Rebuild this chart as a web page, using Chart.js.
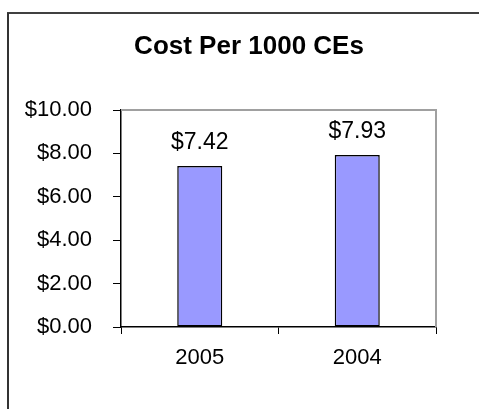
<!DOCTYPE html>
<html>
<head>
<meta charset="utf-8">
<script src="https://cdn.jsdelivr.net/npm/chart.js@4/dist/chart.umd.min.js"></script>
<style>
  body { margin: 0; background: #fff; }
  #wrap { width: 479px; height: 409px; }
</style>
</head>
<body>
<div id="wrap"><canvas id="myChart" width="479" height="409"></canvas></div>
<script>
var categories = ['2005', '2004'];
var costValues = [7.42, 7.93];
var yTicks = [0, 2, 4, 6, 8, 10];
var chartTitle = 'Cost Per 1000 CEs';

var fontName = '"Liberation Sans", Arial, sans-serif';

// frame around the whole chart, title, grey plot-area edges, value labels
var decorPlugin = {
  id: 'decor',
  beforeDatasetsDraw: function (chart) {
    var ctx = chart.ctx;
    var a = chart.chartArea;
    ctx.save();
    ctx.strokeStyle = '#a0a0a0';
    ctx.lineWidth = 2;
    ctx.beginPath();
    ctx.moveTo(a.left, a.top);
    ctx.lineTo(a.right, a.top);
    ctx.lineTo(a.right, a.bottom);
    ctx.stroke();
    ctx.restore();
  },
  afterDatasetsDraw: function (chart) {
    var ctx = chart.ctx;
    var meta = chart.getDatasetMeta(0);
    ctx.save();
    ctx.fillStyle = '#000';
    ctx.font = '23px ' + fontName;
    ctx.textAlign = 'center';
    ctx.textBaseline = 'alphabetic';
    meta.data.forEach(function (bar, i) {
      ctx.fillText('$' + costValues[i].toFixed(2), bar.x, bar.y - 17);
    });
    ctx.restore();
  },
  afterDraw: function (chart) {
    var ctx = chart.ctx;
    ctx.save();
    ctx.fillStyle = '#000';
    ctx.font = 'bold 26px ' + fontName;
    ctx.textAlign = 'center';
    ctx.textBaseline = 'alphabetic';
    ctx.fillText(chartTitle, 249, 54);

    ctx.strokeStyle = '#000';
    ctx.lineWidth = 1.5;
    ctx.beginPath();
    ctx.moveTo(7, 13);
    ctx.lineTo(479, 13);
    ctx.stroke();
    ctx.strokeStyle = '#333';
    ctx.lineWidth = 2;
    ctx.beginPath();
    ctx.moveTo(8, 13);
    ctx.lineTo(8, 409);
    ctx.stroke();
    ctx.restore();
  },
};

new Chart('myChart', {
  type: 'bar',
  data: {
    labels: categories,
    datasets: [
      {
        data: costValues,
        backgroundColor: '#9999ff',
        borderColor: '#000',
        borderWidth: 1.5,
        borderSkipped: false,
        barPercentage: 0.286,
        categoryPercentage: 1,
      },
    ],
  },
  options: {
    responsive: false,
    animation: false,
    layout: { padding: { left: 0, right: 43, top: 110, bottom: 0 } },
    plugins: {
      legend: { display: false },
      tooltip: { enabled: false },
      title: { display: false },
    },
    scales: {
      x: {
        offset: true,
        grid: {
          offset: true,
          drawOnChartArea: false,
          tickLength: 7,
          color: '#000',
        },
        border: { color: '#000', width: 1.5 },
        ticks: {
          color: '#000',
          font: { family: fontName, size: 22 },
          padding: 11,
          maxRotation: 0,
        },
        afterFit: function (scale) {
          scale.height = 82;
        },
      },
      y: {
        min: 0,
        max: 10,
        grid: {
          drawOnChartArea: false,
          tickLength: 8,
          color: '#000',
        },
        border: { color: '#000', width: 1.5 },
        afterBuildTicks: function (scale) {
          scale.ticks = yTicks.map(function (v) { return { value: v }; });
        },
        ticks: {
          color: '#000',
          font: { family: fontName, size: 22 },
          padding: 21,
          callback: function (v) { return '$' + Number(v).toFixed(2); },
        },
        afterFit: function (scale) {
          scale.width = 121;
        },
      },
    },
  },
  plugins: [decorPlugin],
});
</script>
</body>
</html>
